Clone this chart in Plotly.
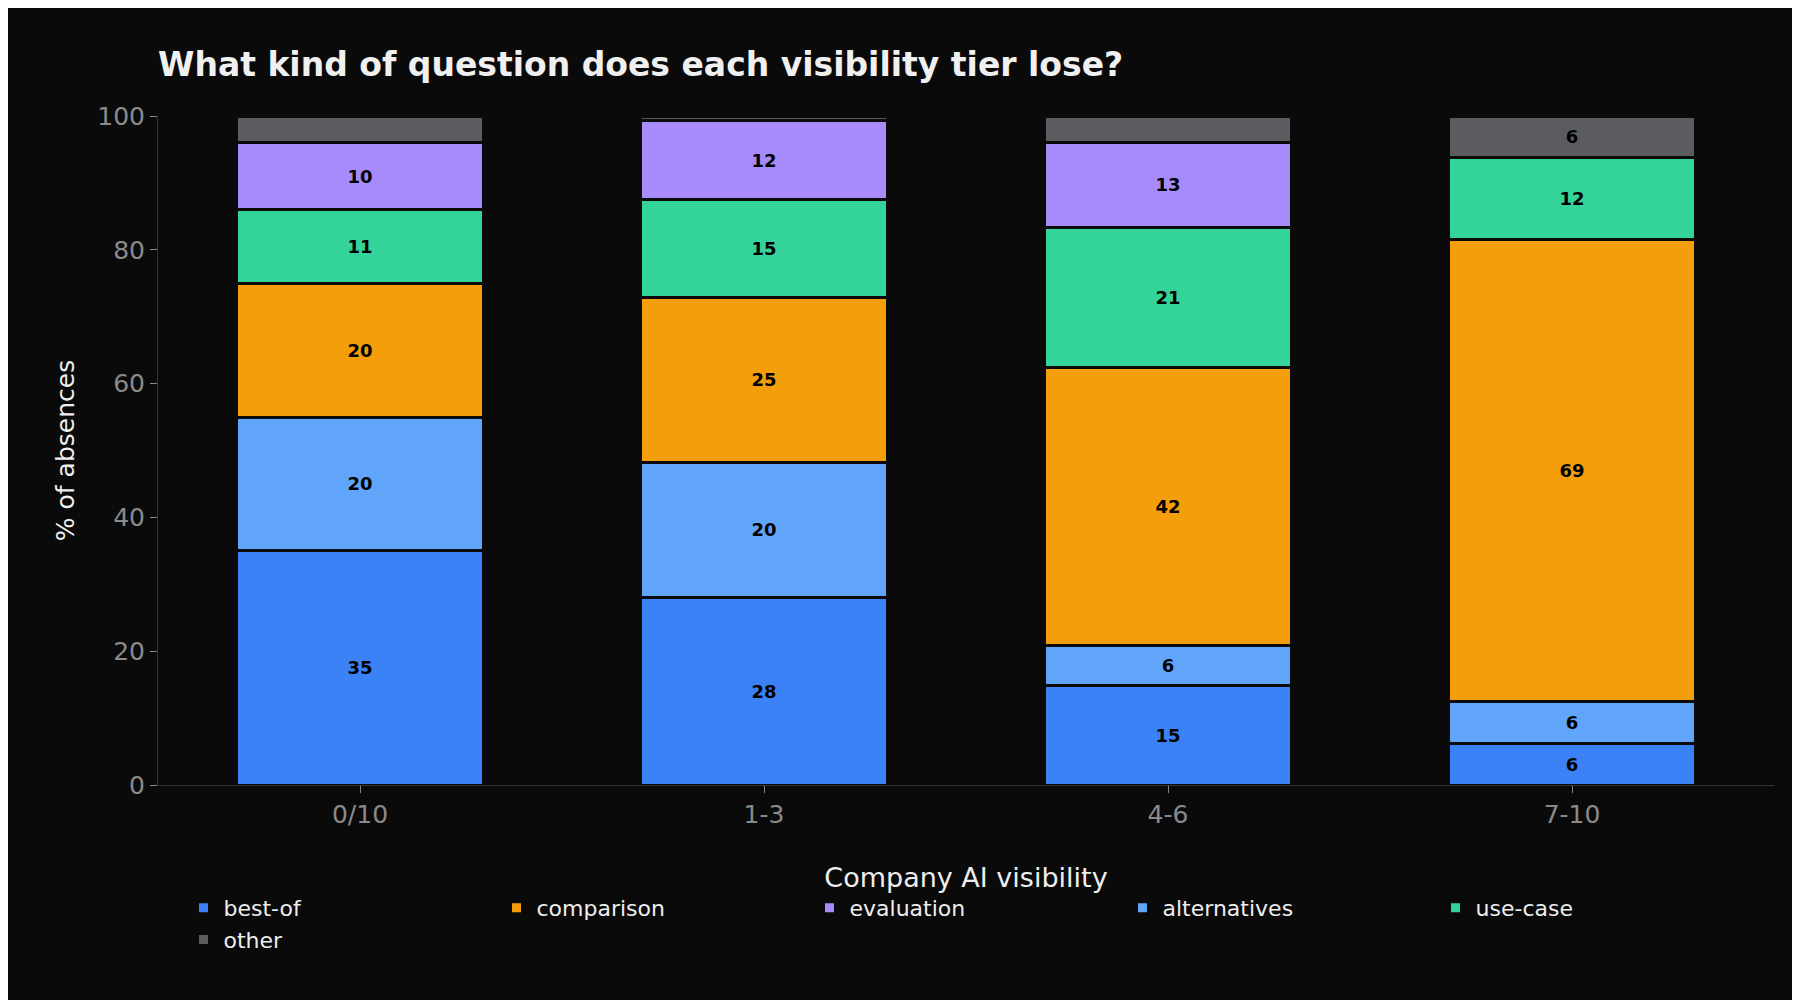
import plotly.graph_objects as go

tiers = ["0/10", "1-3", "4-6", "7-10"]
categories = ["best-of", "alternatives", "comparison", "use-case", "evaluation", "other"]
colors = ["#3b82f6", "#60a5fa", "#f59e0b", "#34d399", "#a78bfa", "#5b5c60"]

best_of = [35, 28.1, 14.9, 6.2]
alternatives = [20, 20.1, 5.9, 6.3]
comparison = [20, 24.7, 41.6, 69]
use_case = [11, 14.6, 21, 12.3]
evaluation = [10, 11.8, 12.7, 0]
other = [4, 0.7, 3.9, 6.2]

series = [best_of, alternatives, comparison, use_case, evaluation, other]
# legend ranks so the horizontal legend reads column-wise
ranks = [1, 4, 2, 5, 3, 6]

fig = go.Figure()
for name, vals, col, rk in zip(categories, series, colors, ranks):
    labels = [f"{v:.0f}" if v >= 5 else "" for v in vals]
    fig.add_trace(go.Bar(
        x=tiers, y=vals, name=name, marker_color=col,
        marker_line_color="#0a0a0a", marker_line_width=3,
        text=labels, textposition="inside", insidetextanchor="middle",
        textfont=dict(color="black", size=18, family="DejaVu Sans", weight="bold"),
        legendrank=rk, width=0.61,
    ))

fig.update_layout(
    barmode="stack",
    width=1800, height=1000,
    paper_bgcolor="#0a0a0a", plot_bgcolor="#0a0a0a",
    font=dict(family="DejaVu Sans", color="#eeeeee"),
    title=dict(text="<b>What kind of question does each visibility tier lose?</b>",
               x=150 / 1800, xanchor="left", y=0.955, font=dict(size=33, color="#f0f0f0")),
    margin=dict(l=150, r=34, t=108, b=223),
    xaxis=dict(tickfont=dict(size=25, color="#8a8a8a"), showline=True, linecolor="#333333",
               ticks="outside", tickcolor="#888888", ticklen=7),
    yaxis=dict(title=dict(text="% of absences", font=dict(size=25, color="#eeeeee")),
               range=[0, 100], dtick=20, showgrid=False, zeroline=False,
               tickfont=dict(size=25, color="#8a8a8a"), showline=True, linecolor="#333333",
               ticks="outside", tickcolor="#888888", ticklen=7),
    legend=dict(orientation="h", x=0.5, xanchor="center", y=-0.1, yanchor="top",
                entrywidth=268, entrywidthmode="pixels", traceorder="normal",
                title=dict(text="Company AI visibility", side="top center",
                           font=dict(size=27, color="#eeeeee")),
                font=dict(size=22, color="#eeeeee")),
    uniformtext=dict(minsize=10, mode="show"),
)

fig.write_html("out.html")
